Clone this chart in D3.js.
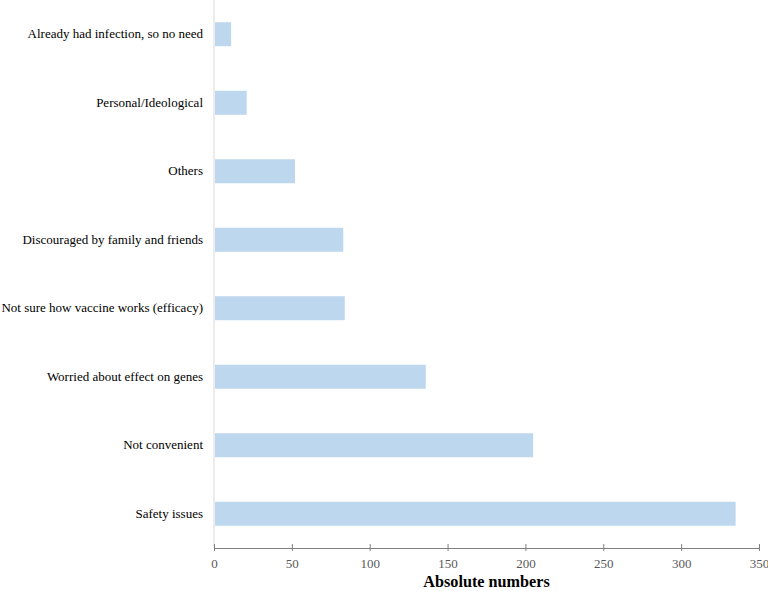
<!DOCTYPE html>
<html>
<head>
<meta charset="utf-8">
<script src="https://cdn.jsdelivr.net/npm/d3@7"></script>
<style>
  body { margin: 0; background: #fff; }
  text { font-family: "Liberation Serif", "Times New Roman", serif; }
</style>
</head>
<body>
<script>
const categorias = [
  "Already had infection, so no need",
  "Personal/Ideological",
  "Others",
  "Discouraged by family and friends",
  "Not sure how vaccine works (efficacy)",
  "Worried about effect on genes",
  "Not convenient",
  "Safety issues",
];
const valores = [11, 21, 52, 83, 84, 136, 205, 335];
const ticksX = [0, 50, 100, 150, 200, 250, 300, 350];

const width = 768;
const height = 591;
const margin = { top: 0, bottom: 43, left: 214, right: 9 };
const fuente = '"Liberation Serif", "Times New Roman", serif';

const svg = d3
  .select("body")
  .append("svg")
  .attr("width", width)
  .attr("height", height);

const escalaX = d3
  .scaleLinear()
  .domain([0, 350])
  .range([margin.left, width - margin.right]);

const escalaY = d3
  .scaleBand()
  .domain(categorias)
  .range([margin.top, height - margin.bottom])
  .paddingInner(0.65)
  .paddingOuter(0.325);

// eje vertical (solo linea gris clara)
svg
  .append("line")
  .attr("x1", escalaX(0))
  .attr("x2", escalaX(0))
  .attr("y1", margin.top)
  .attr("y2", height - margin.bottom)
  .attr("stroke", "#d9d9d9")
  .attr("stroke-width", 1);

svg
  .append("g")
  .selectAll("rect")
  .data(valores)
  .join("rect")
  .attr("x", escalaX(0) + 1)
  .attr("y", (d, i) => escalaY(categorias[i]))
  .attr("width", (d) => escalaX(d) - escalaX(0) - 1)
  .attr("height", escalaY.bandwidth())
  .attr("fill", "#bdd7ee");

const ejeY = d3.axisLeft(escalaY).tickSize(0).tickPadding(11);
svg
  .append("g")
  .attr("transform", `translate(${escalaX(0)}, 0)`)
  .call(ejeY)
  .attr("font-family", fuente)
  .attr("font-size", 13)
  .call((g) => g.select(".domain").remove())
  .call((g) => g.selectAll("text").attr("fill", "#000"));

const ejeX = d3
  .axisBottom(escalaX)
  .tickValues(ticksX)
  .tickSize(3)
  .tickSizeOuter(0)
  .tickPadding(8);
const gx = svg
  .append("g")
  .attr("transform", `translate(0, ${height - margin.bottom})`)
  .call(ejeX)
  .attr("font-family", fuente)
  .attr("font-size", 13);
gx.select(".domain").attr("stroke", "#7f7f7f");
gx.selectAll(".tick line")
  .attr("stroke", "#7f7f7f")
  .attr("y1", -4);
gx.selectAll(".tick text").attr("fill", "#595959");

svg
  .append("text")
  .attr("x", (escalaX(0) + escalaX(350)) / 2)
  .attr("y", 587)
  .attr("text-anchor", "middle")
  .attr("font-family", fuente)
  .attr("font-size", 16.2)
  .attr("font-weight", "bold")
  .attr("fill", "#000")
  .text("Absolute numbers");
</script>
</body>
</html>
